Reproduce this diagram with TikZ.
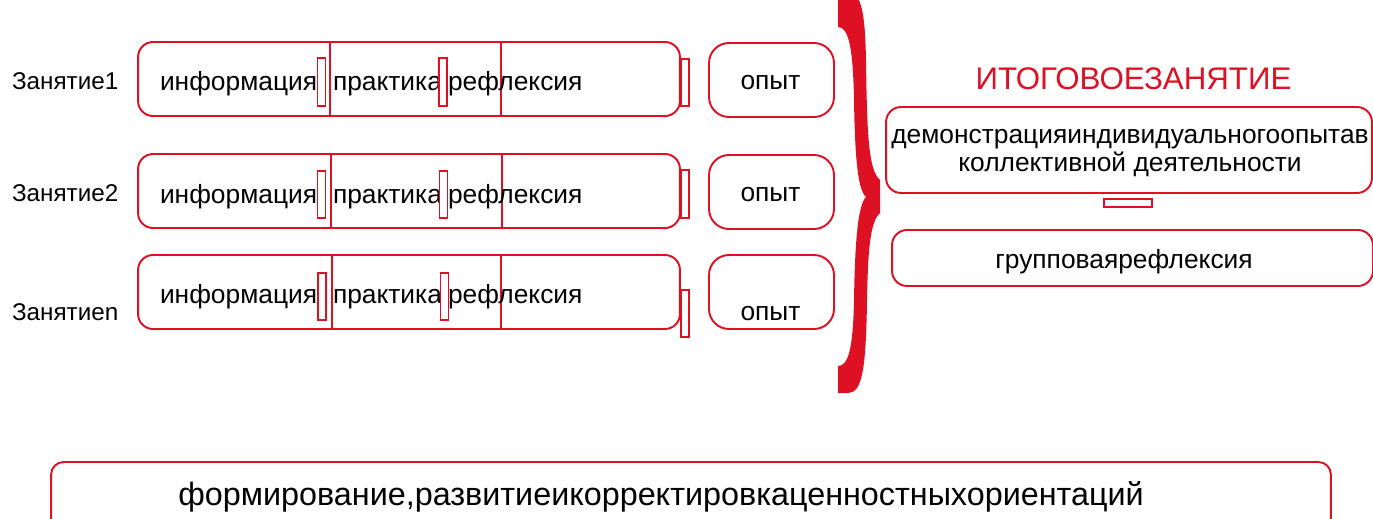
\documentclass[tikz,border=0pt]{standalone}
\usepackage{fontspec}
\setmainfont{Liberation Sans}
\definecolor{redline}{RGB}{222,17,36}

\begin{document}
\begin{tikzpicture}[x=0.02cm, y=-0.02cm, every node/.style={inner sep=0pt, outer sep=0pt}]
	\tikzset{rowbox/.style={draw=redline, line width=1.1pt, rounded corners=0.3cm, minimum width=10.84cm, minimum height=1.48cm}}
	\tikzset{expbox/.style={draw=redline, line width=1.1pt, rounded corners=0.4cm, minimum width=2.5cm, minimum height=1.48cm}}
	\tikzset{notch/.style={draw=redline, fill=white, line width=1.1pt, minimum width=0.16cm, minimum height=0.95cm}}
	\tikzset{txt/.style={anchor=base, font=\fontsize{15}{16.5}\selectfont}}
	\tikzset{lbl/.style={anchor=base west, font=\fontsize{13.8}{15}\selectfont}}
	\clip (0,0) rectangle (1373,518);
	\useasboundingbox (0,0) rectangle (1373,518);
	% rows
	\node[lbl] (l1) at (12,89) {Занятие1};
	\node[lbl] (l2) at (12,201) {Занятие2};
	\node[lbl] (l3) at (12,320) {Занятиеn};
	\node[rowbox] (row1) at (409,79) {};
	\node[rowbox] (row2) at (409,191) {};
	\node[rowbox] (row3) at (409,292) {};
	\draw[redline, line width=1.1pt] (330,42) -- (330,116);
	\draw[redline, line width=1.1pt] (501,42) -- (501,116);
	\draw[redline, line width=1.1pt] (331,154) -- (331,228);
	\draw[redline, line width=1.1pt] (502,154) -- (502,228);
	\draw[redline, line width=1.1pt] (332,255) -- (332,329);
	\draw[redline, line width=1.1pt] (501,255) -- (501,329);
	\node[txt, anchor=base west] (i1) at (160,90) {информация};
	\node[txt, anchor=base west] (p1) at (333,90) {практика};
	\node[txt, anchor=base west] (r1) at (448,90) {рефлексия};
	\node[txt, anchor=base west] (i2) at (160,203) {информация};
	\node[txt, anchor=base west] (p2) at (333,203) {практика};
	\node[txt, anchor=base west] (r2) at (448,203) {рефлексия};
	\node[txt, anchor=base west] (i3) at (160,303) {информация};
	\node[txt, anchor=base west] (p3) at (333,303) {практика};
	\node[txt, anchor=base west] (r3) at (448,303) {рефлексия};
	\node[notch] (a1) at (321.5,82) {};
	\node[notch] (b1) at (443,82) {};
	\node[notch] (c1) at (685,82.5) {};
	\node[notch] (a2) at (321.5,194.5) {};
	\node[notch] (b2) at (443.5,194.5) {};
	\node[notch] (c2) at (685,194) {};
	\node[notch] (a3) at (322,296.5) {};
	\node[notch] (b3) at (444.5,296.5) {};
	\node[notch] (c3) at (685,313.5) {};
	% experience
	\node[expbox] (e1) at (771.5,80) {};
	\node[expbox] (e2) at (771.5,192) {};
	\node[expbox] (e3) at (771.5,292) {};
	\node[txt] (o1) at (770.5,89) {опыт};
	\node[txt] (o2) at (770.5,201) {опыт};
	\node[txt] (o3) at (770.5,320) {опыт};
	% brace
	\fill[redline] (838,-8) -- (848,-8) .. controls (862,-8) and (865,15) .. (866,60)
		.. controls (867,130) and (868,170) .. (880,180) -- (880,213)
		.. controls (870,222) and (868,250) .. (867,300)
		.. controls (866,370) and (862,393) .. (848,393) -- (838,393) -- (838,366)
		.. controls (848,366) and (853,350) .. (854,300)
		.. controls (855,240) and (858,205) .. (866,197)
		.. controls (858,190) and (855,160) .. (854,100)
		.. controls (853,45) and (848,27) .. (838,27) -- cycle;
	% final lesson
	\node[anchor=base, text=redline, font=\fontsize{17.8}{19}\selectfont] (title) at (1133.5,89) {ИТОГОВОЕЗАНЯТИЕ};
	\node[draw=redline, line width=1.1pt, rounded corners=0.3cm, minimum width=9.72cm, minimum height=1.72cm] (demo) at (1129,150) {};
	\node[anchor=center, align=center, font=\fontsize{15}{15.5}\selectfont] (demotxt) at (1130,153) {демонстрацияиндивидуальногоопытав\\коллективной деятельности};
	\node[draw=redline, fill=white, line width=1.1pt, minimum width=0.96cm, minimum height=0.16cm] (link) at (1128,203) {};
	\node[draw=redline, line width=1.1pt, rounded corners=0.3cm, minimum width=9.62cm, minimum height=1.12cm] (grp) at (1132.5,258) {};
	\node[txt] (grptxt) at (1124,268) {групповаярефлексия};
	% bottom
	\node[draw=redline, line width=1.1pt, rounded corners=0.25cm, minimum width=25.6cm, minimum height=1.76cm] (goal) at (691,506) {};
	\node[anchor=base, font=\fontsize{18.4}{20}\selectfont] (goaltxt) at (661,505) {формирование,развитиеикорректировкаценностныхориентаций};
\end{tikzpicture}
\end{document}
